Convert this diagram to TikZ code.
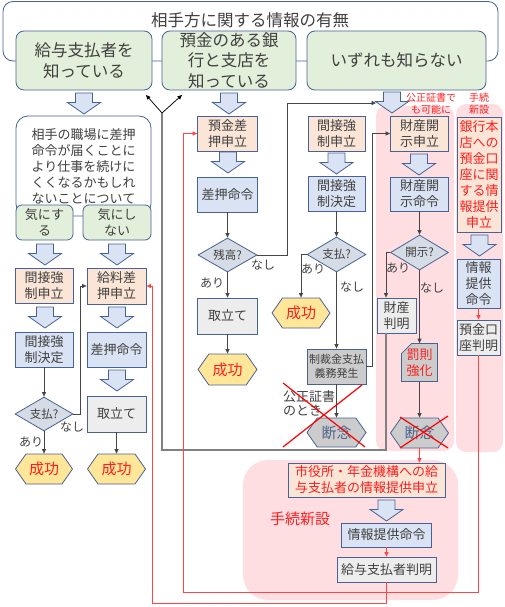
\documentclass[tikz,border=0pt]{standalone}
\usepackage{fontspec}
\setmainfont{Noto Sans CJK JP}
\usetikzlibrary{shapes.geometric,shapes.symbols,shapes.misc,arrows.meta}
\newcommand\myfs[2]{\fontsize{#1}{#2}\selectfont}
\definecolor{bd}{RGB}{72,98,148}
\definecolor{txt}{RGB}{64,64,64}
\definecolor{peach}{RGB}{251,229,214}
\definecolor{lblue}{RGB}{218,227,243}
\definecolor{lgray}{RGB}{237,237,237}
\definecolor{mgray}{RGB}{204,204,204}
\definecolor{lgreen}{RGB}{226,239,218}
\definecolor{dfill}{RGB}{214,220,229}
\definecolor{gold}{RGB}{255,230,153}
\definecolor{pinkbg}{RGB}{255,222,226}
\definecolor{rtxt}{RGB}{255,30,30}
\definecolor{rline}{RGB}{255,70,70}
\definecolor{gline}{RGB}{128,128,128}
\definecolor{cline}{RGB}{70,70,70}
\definecolor{dtxt}{RGB}{80,100,140}
\tikzset{
 base/.style={draw=bd, line width=0.8pt, text=txt, align=center, inner sep=0pt, font=\myfs{13}{16}},
 pbox/.style={base, fill=peach},
 bbox/.style={base, fill=lblue},
 gbox/.style={base, fill=lgray},
 sbox/.style={base, fill=mgray},
 grn/.style={base, fill=lgreen, rounded corners=8pt, font=\myfs{16.5}{20.5}},
 dia/.style={base, diamond, aspect=1.7, fill=dfill, font=\myfs{11.5}{14}},
 hexa/.style={base, signal, signal to=east and west, signal pointer angle=110, fill=gold, text=rtxt, font=\myfs{15}{18}},
 lab/.style={text=txt, font=\myfs{12}{14}, inner sep=0pt},
 rlab/.style={text=rtxt, inner sep=0pt, align=center},
 con/.style={draw=cline, line width=0.75pt, -{Triangle[length=4.5pt,width=4pt]}},
 rcon/.style={draw=rline, line width=0.75pt, -{Triangle[length=4.5pt,width=4pt]}},
 loopline/.style={draw=gline, line width=1.3pt},
 cross/.style={draw=red, line width=1.2pt},
 barrow/.pic={\draw[draw=bd, line width=0.8pt, fill=lblue] (-8.5,0) -- (8.5,0) -- (8.5,9.5) -- (16.5,9.5) -- (0,21) -- (-16.5,9.5) -- (-8.5,9.5) -- cycle;}
}
\begin{document}
\begin{tikzpicture}[x=1pt,y=-1pt]
\useasboundingbox (0,0) rectangle (505,607);
% top frame
\draw[draw=bd, line width=0.8pt, fill=white, rounded corners=10pt] (3,1.5) rectangle (498,61);
\node[text=txt, font=\myfs{16.5}{20}, inner sep=0pt] (title) at (250,20) {相手方に関する情報の有無};
% pink backgrounds
\fill[pinkbg, rounded corners=10pt] (376,106) rectangle (454,451);
\fill[pinkbg, rounded corners=10pt] (456,104) rectangle (503,452);
\fill[pinkbg, rounded corners=25pt] (243,460) rectangle (458,600);
% green
\node[grn, minimum width=136, minimum height=59] (g1) at (84,60.5) {給与支払者を\\知っている};
\node[grn, minimum width=134, minimum height=59] (g2) at (229,60.5) {預金のある銀\\行と支店を\\知っている};
\node[grn, minimum width=179, minimum height=59] (g3) at (396.5,60.5) {いずれも知らない};
% left column
\node[base, fill=white, rounded corners=12pt, minimum width=135, minimum height=100] (kn) at (83.5,166) {相手の職場に差押\\命令が届くことに\\より仕事を続けに\\くくなるかもしれ\\ないことについて};
\node[grn, font=\myfs{13}{16}, rounded corners=6pt, minimum width=57, minimum height=35] (ki1) at (44.5,222.5) {気にす\\る};
\node[grn, font=\myfs{13}{16}, rounded corners=6pt, minimum width=68, minimum height=35] (ki2) at (117,222.5) {気にし\\ない};
\node[pbox, minimum width=58, minimum height=35] (kk1) at (44,285.5) {間接強\\制申立};
\node[pbox, minimum width=59, minimum height=36] (kyu) at (116.5,286) {給料差\\押申立};
\node[bbox, minimum width=58, minimum height=35] (kd1) at (44,349.5) {間接強\\制決定};
\node[bbox, minimum width=59, minimum height=35] (sm1) at (116.5,349.5) {差押命令};
\node[dia, minimum width=58, minimum height=34] (dia1) at (44,414) {支払?};
\node[gbox, minimum width=59, minimum height=36] (tori1) at (116.5,414) {取立て};
\node[hexa, minimum width=57, minimum height=30] (suc1) at (44,469) {成功};
\node[hexa, minimum width=58, minimum height=30] (suc2) at (116.5,469) {成功};
\node[lab] (l1) at (31,442) {あり};
\node[lab] (l2) at (72,427) {なし};
% middle column (deposit)
\node[pbox, minimum width=60, minimum height=35] (yokin) at (227.5,133.5) {預金差\\押申立};
\node[bbox, minimum width=60, minimum height=35] (sm2) at (227.5,194.5) {差押命令};
\node[dia, minimum width=59, minimum height=34] (zan) at (227.5,255) {残高?};
\node[gbox, minimum width=60, minimum height=36] (tori2) at (227.5,316) {取立て};
\node[hexa, minimum width=59, minimum height=31] (suc3) at (227.5,369.5) {成功};
\node[lab] (l3) at (263,265) {なし};
\node[lab] (l4) at (212,283) {あり};
% middle column (indirect)
\node[pbox, minimum width=57, minimum height=35] (kk2) at (336.5,133.5) {間接強\\制申立};
\node[bbox, minimum width=57, minimum height=35] (kd2) at (336.5,193.5) {間接強\\制決定};
\node[dia, minimum width=59, minimum height=35] (shi2) at (336.5,254.5) {支払?};
\node[hexa, minimum width=58, minimum height=30] (suc4) at (301,313) {成功};
\node[sbox, font=\myfs{11}{14}, minimum width=59, minimum height=35] (sei) at (336.5,366.5) {制裁金支払\\義務発生};
\node[hexa, fill=mgray, text=dtxt, minimum width=59, minimum height=29] (dan1) at (336.5,432.5) {断念};
\node[lab, align=left, anchor=west, font=\myfs{13}{14}] (kosei) at (283,403) {公正証書\\のとき};
\node[lab] (l5) at (313,269) {あり};
\node[lab] (l6) at (352,287) {なし};
% right column (asset disclosure)
\node[pbox, minimum width=58, minimum height=35] (zk1) at (419.5,133.5) {財産開\\示申立};
\node[bbox, minimum width=58, minimum height=34] (zk2) at (419.5,194) {財産開\\示命令};
\node[dia, minimum width=58, minimum height=35] (kai) at (419.5,252.5) {開示?};
\node[gbox, minimum width=39, minimum height=35] (zh) at (396.5,315.5) {財産\\判明};
\node[base, chamfered rectangle, chamfered rectangle corners=north west, chamfered rectangle xsep=5pt, chamfered rectangle ysep=5pt, fill=mgray, text=rtxt, minimum width=34, minimum height=35] (bas) at (419.5,362.5) {罰則\\強化};
\node[hexa, fill=mgray, text=dtxt, minimum width=58, minimum height=30] (dan2) at (419.5,433) {断念};
\node[lab] (l7) at (398,268) {あり};
\node[lab] (l8) at (432,288) {なし};
\node[rlab, font=\myfs{10}{12}] (pl1) at (431,104) {公正証書で\\も可能に};
\node[rlab, font=\myfs{10}{12}] (pl2) at (479,104) {手続\\新設};
% far right column
\node[pbox, text=rtxt, minimum width=44, minimum height=115] (bh) at (479,174.5) {銀行本\\店への\\預金口\\座に関\\する情\\報提供\\申立};
\node[bbox, minimum width=43, minimum height=49] (jo1) at (478.5,283.5) {情報\\提供\\命令};
\node[gbox, minimum width=43, minimum height=35] (yoh) at (478.5,337.5) {預金口\\座判明};
% bottom
\node[pbox, text=rtxt, minimum width=157, minimum height=34] (shiyaku) at (366.5,480) {市役所・年金機構への給\\与支払者の情報提供申立};
\node[rlab, font=\myfs{15}{18}] (tetsu) at (300,519) {手続新設};
\node[bbox, minimum width=90, minimum height=24] (jo2) at (386.5,535) {情報提供命令};
\node[gbox, minimum width=99, minimum height=25] (kyuh) at (386.5,569.5) {給与支払者判明};
% block arrows
\pic at (84,93) {barrow};
\pic at (229,93) {barrow};
\pic at (392,92) {barrow};
\pic at (45,244) {barrow};
\pic at (117,244) {barrow};
\pic at (45,307) {barrow};
\pic at (117,307) {barrow};
\pic at (117,370) {barrow};
\pic at (228,152) {barrow};
\pic at (336.5,153) {barrow};
\pic at (419,154) {barrow};
\pic at (479.5,235) {barrow};
\pic at (386.5,500) {barrow};
% coordinates
\coordinate (ba3) at (376,103);
\coordinate (fork) at (162,113);
\coordinate (fa) at (146,95);
\coordinate (fb) at (182,95);
% connectors
\draw[con] (kd1.south) -- (dia1.north);
\draw[con] (dia1.south) -- (suc1.north);
\draw[con] (dia1.east) -- ++(7,0) |- (kyu.west);
\draw[con] (tori1.south) -- (suc2.north);
\draw[con] (sm2.south) -- (zan.north);
\draw[con] (zan.south) -- (tori2.north);
\draw[con] (tori2.south) -- (suc3.north);
\draw[con] (zan.east) -- ++(30,0) |- (ba3);
\draw[con] (kd2.south) -- (shi2.north);
\draw[con] (shi2.west) -| (suc4.north);
\draw[con] (shi2.south) -- (sei.north);
\draw[con] (sei.east) -- ++(6,0) |- (zk1.west);
\draw[con] (sei.south) -- (dan1.north);
\draw[con] (zk2.south) -- (kai.north);
\draw[con] (kai.west) -| ([xshift=-10.5pt]zh.north);
\draw[con] (kai.south) -- (bas.north);
\draw[con] (bas.south) -- (dan2.north);
\draw[loopline] ([xshift=-10.5pt]zh.south) |- (162,450) -- (fork);
\draw[con, draw=black] (fork) -- (fa);
\draw[con, draw=black] (fork) -- (fb);
\draw[rcon] (dan2.south) -- (dan2.south |- shiyaku.north);
\draw[rcon] (jo2.south) -- (kyuh.north);
\draw[rcon] (jo1.south) -- (yoh.north);
\draw[rcon] (yoh.south) |- (183,592) |- (yokin.west);
\draw[rcon] (kyuh.south) |- (152,603) |- (kyu.east);
% crosses
\draw[cross] (283,383) -- (365,447);
\draw[cross] (283,447) -- (362,385);
\draw[cross] (400,417) -- (448,448);
\draw[cross] (400,448) -- (448,416);
\end{tikzpicture}
\end{document}
